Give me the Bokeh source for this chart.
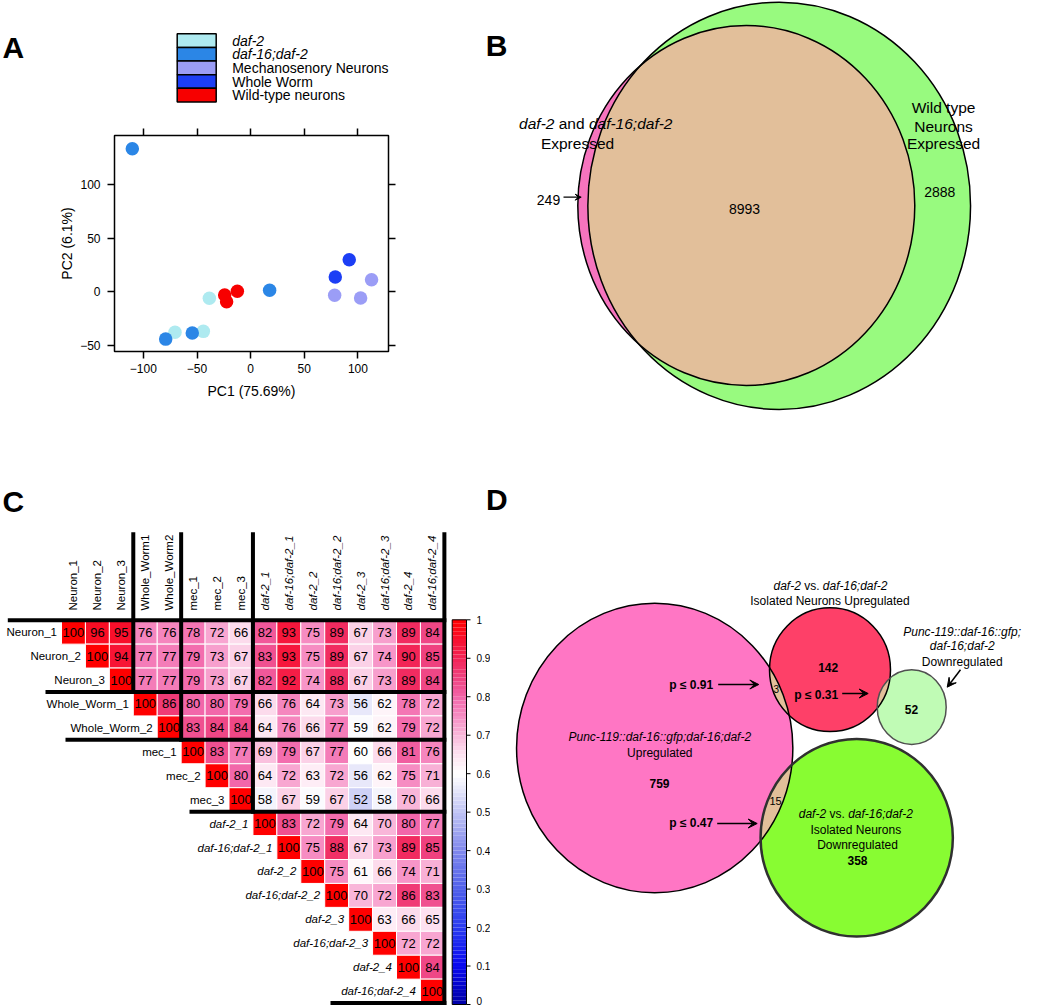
import numpy as np
from bokeh.plotting import figure
from bokeh.models import (Range1d, ColumnDataSource, LinearAxis, FixedTicker,
                          LinearColorMapper, Arrow, VeeHead)
from bokeh.layouts import row, column
from bokeh.transform import transform
from bokeh.core.properties import value
from bokeh.embed import file_html
from bokeh.resources import INLINE

FONT = "Liberation Sans"

# ---------------- data ----------------
# Panel A: PCA scores
pca_groups = ["daf-2", "daf-16;daf-2", "Mechanosenory Neurons", "Whole Worm", "Wild-type neurons"]
pca_italic = [True, True, False, False, False]
pca_colors = ["#aeeaf0", "#2b86e6", "#9b9df6", "#1c3ef5", "#f70000"]
daf2_pc1 = [-70.5, -44.1, -38.5]
daf2_pc2 = [-37.5, -36.6, -5.9]
daf16_pc1 = [-110.3, -79.2, -54.4, 17.7]
daf16_pc2 = [133.0, -43.8, -38.1, 1.6]
mec_pc1 = [78.3, 102.5, 112.7]
mec_pc2 = [-3.1, -5.6, 11.3]
ww_pc1 = [78.9, 91.9]
ww_pc2 = [13.8, 30.0]
wt_pc1 = [-24.2, -22.4, -12.4]
wt_pc2 = [-2.8, -9.1, 0.6]
pc1_ticks = [-100, -50, 0, 50, 100]
pc2_ticks = [-50, 0, 50, 100]

# Panel B: Venn counts
b_only_mutant = 249
b_shared = 8993
b_only_wt = 2888

# Panel C: correlation matrix (upper triangle, percent)
row_names = ["Neuron_1", "Neuron_2", "Neuron_3", "Whole_Worm_1", "Whole_Worm_2",
             "mec_1", "mec_2", "mec_3", "daf-2_1", "daf-16;daf-2_1", "daf-2_2",
             "daf-16;daf-2_2", "daf-2_3", "daf-16;daf-2_3", "daf-2_4", "daf-16;daf-2_4"]
col_names = ["Neuron_1", "Neuron_2", "Neuron_3", "Whole_Worm1", "Whole_Worm2",
             "mec_1", "mec_2", "mec_3", "daf-2_1", "daf-16;daf-2_1", "daf-2_2",
             "daf-16;daf-2_2", "daf-2_3", "daf-16;daf-2_3", "daf-2_4", "daf-16;daf-2_4"]
group_sizes = [3, 2, 3, 8]
corr_upper = [
    [100, 96, 95, 76, 76, 78, 72, 66, 82, 93, 75, 89, 67, 73, 89, 84],
    [100, 94, 77, 77, 79, 73, 67, 83, 93, 75, 89, 67, 74, 90, 85],
    [100, 77, 77, 79, 73, 67, 82, 92, 74, 88, 67, 73, 89, 84],
    [100, 86, 80, 80, 79, 66, 76, 64, 73, 56, 62, 78, 72],
    [100, 83, 84, 84, 64, 76, 66, 77, 59, 62, 79, 72],
    [100, 83, 77, 69, 79, 67, 77, 60, 66, 81, 76],
    [100, 80, 64, 72, 63, 72, 56, 62, 75, 71],
    [100, 58, 67, 59, 67, 52, 58, 70, 66],
    [100, 83, 72, 79, 64, 70, 80, 77],
    [100, 75, 88, 67, 73, 89, 85],
    [100, 75, 61, 66, 74, 71],
    [100, 70, 72, 86, 83],
    [100, 63, 66, 65],
    [100, 72, 72],
    [100, 84],
    [100],
]
cbar_ticks = [0.0, 0.1, 0.2, 0.3, 0.4, 0.5, 0.6, 0.7, 0.8, 0.9, 1.0]
cbar_labels = ["0", "0.1", "0.2", "0.3", "0.4", "0.5", "0.6", "0.7", "0.8", "0.9", "1"]
cmap_stops = [0.0, 0.1, 0.2, 0.3, 0.4, 0.5, 0.58, 0.6, 0.65, 0.7, 0.75, 0.8, 0.85, 0.9, 0.95, 1.0]
cmap_colors = ["#0000a8", "#0808f0", "#2a3cf0", "#5060ea", "#8088ec", "#c0c4f4", "#f4f4fc",
               "#ffffff", "#fde2f0", "#f9b8da", "#f68ec4", "#f267aa", "#ef4280", "#f22658",
               "#f8102e", "#ff0000"]

# Panel D: Venn counts
d_punc_up = 759
d_iso_up = 142
d_punc_down = 52
d_iso_down = 358
d_overlap_up = 3
d_overlap_down = 15
d_pvals = ["p \u2264 0.91", "p \u2264 0.31", "p \u2264 0.47"]

# ---------------- helpers ----------------
AW = {' ': 278, '!': 278, '(': 333, ')': 333, '-': 333, '.': 278, ':': 278, ';': 278, '_': 556,
      '%': 889, 'a': 556, 'b': 556, 'c': 500, 'd': 556, 'e': 556, 'f': 278, 'g': 556, 'h': 556,
      'i': 222, 'j': 222, 'k': 500, 'l': 222, 'm': 833, 'n': 556, 'o': 556, 'p': 556, 'q': 556,
      'r': 333, 's': 500, 't': 278, 'u': 556, 'v': 500, 'w': 722, 'x': 500, 'y': 500, 'z': 500,
      'A': 667, 'B': 667, 'C': 722, 'D': 722, 'E': 667, 'I': 278, 'N': 722, 'P': 667, 'U': 722,
      'W': 944, 'M': 833}


def tw(s, size):
    return sum(AW.get(c, 556) for c in s) / 1000.0 * size


def canvas(x0, x1, y0, y1):
    p = figure(width=int(round(x1 - x0)), height=int(round(y1 - y0)),
               x_range=Range1d(x0, x1), y_range=Range1d(y1, y0),
               x_axis_location=None, y_axis_location=None, tools="",
               output_backend="svg", toolbar_location=None, min_border=0,
               frame_align=False)
    p.grid.visible = False
    p.outline_line_color = None
    p.background_fill_color = "white"
    p.border_fill_color = "white"
    return p


def txt(p, x, y, s, size, style="normal", align="center", baseline="middle", angle=0.0):
    p.text(x=[x], y=[y], text=[s], angle=angle, text_font=value(FONT),
           text_font_size=f"{size}px", text_font_style=style, text_align=align,
           text_baseline=baseline, text_color="black")


def rich(p, cx, cy, segs, size):
    total = sum(tw(t, size) for t, _ in segs)
    x = cx - total / 2.0
    for t, it in segs:
        lead = len(t) - len(t.lstrip(" "))
        s = t.strip(" ")
        if s:
            txt(p, x + tw(" " * lead, size), cy, s, size, "italic" if it else "normal", align="left")
        x += tw(t, size)


def ell_pts(cx, cy, w, h, n=900):
    t = np.linspace(0, 2 * np.pi, n, endpoint=False)
    return cx + w / 2 * np.cos(t), cy + h / 2 * np.sin(t)


def inside(x, y, e):
    cx, cy, w, h = e
    return ((x - cx) / (w / 2)) ** 2 + ((y - cy) / (h / 2)) ** 2 <= 1.0


def lens(e1, e2):
    x1, y1 = ell_pts(*e1)
    x2, y2 = ell_pts(*e2)
    m1 = inside(x1, y1, e2)
    m2 = inside(x2, y2, e1)
    xs = np.concatenate([x1[m1], x2[m2]])
    ys = np.concatenate([y1[m1], y2[m2]])
    mx, my = xs.mean(), ys.mean()
    o = np.argsort(np.arctan2(ys - my, xs - mx))
    return list(xs[o]), list(ys[o])


def arrows(p, xs0, ys0, xs1, ys1, size=9, lw=1.5):
    src = ColumnDataSource(dict(x0=xs0, y0=ys0, x1=xs1, y1=ys1))
    p.add_layout(Arrow(x_start="x0", y_start="y0", x_end="x1", y_end="y1", source=src,
                       line_color="black", line_width=lw,
                       end=VeeHead(size=size, fill_color="black", line_color="black", line_width=1)))


TAN = "#e2bf9a"

# ---------------- Panel A: legend canvas ----------------
pl = canvas(0, 485, 0, 105)
txt(pl, 2.0, 46.7, "A", 30, "bold", align="left", baseline="alphabetic")
rh = 13.64
leg_top = [33.3 + i * rh for i in range(len(pca_groups))]
pl.quad(left=176.7, right=215.7, top=leg_top, bottom=[t + rh for t in leg_top],
        fill_color=pca_colors, line_color="black", line_width=1.5)
for i, g in enumerate(pca_groups):
    txt(pl, 231.7, leg_top[i] + rh / 2, g, 14, "italic" if pca_italic[i] else "normal", align="left")

# ---------------- Panel A: scatter ----------------
pa = figure(width=485, height=350, x_range=Range1d(-126.9, 128.5), y_range=Range1d(-55.3, 145.3),
            output_backend="svg", toolbar_location=None, tools="", frame_align=False,
            min_border_left=114, min_border_right=97, min_border_top=30, min_border_bottom=104)
pa.grid.visible = False
pa.outline_line_color = "black"
pa.outline_line_width = 1.5
pa.background_fill_color = "white"
pa.border_fill_color = "white"
pa.below[0].ticker = FixedTicker(ticks=pc1_ticks)
pa.left[0].ticker = FixedTicker(ticks=pc2_ticks)
pa.below[0].axis_label = "PC1 (75.69%)"
pa.left[0].axis_label = "PC2 (6.1%)"
pa.add_layout(LinearAxis(ticker=FixedTicker(ticks=pc1_ticks), major_label_text_color=None,
                         major_label_text_alpha=0, major_label_standoff=0), "above")
pa.add_layout(LinearAxis(ticker=FixedTicker(ticks=pc2_ticks), major_label_text_color=None,
                         major_label_text_alpha=0, major_label_standoff=0), "right")
for ax in pa.below + pa.left + pa.above + pa.right:
    ax.axis_line_color = None
    ax.major_tick_line_color = "black"
    ax.major_tick_line_width = 1.5
    ax.major_tick_in = 0
    ax.major_tick_out = 7
    ax.minor_tick_line_color = None
    ax.axis_label_text_font = FONT
    ax.axis_label_text_font_style = "normal"
    ax.axis_label_text_font_size = "14px"
    ax.axis_label_text_color = "black"
for ax in pa.below + pa.left:
    ax.major_label_text_font = FONT
    ax.major_label_text_font_size = "12px"
    ax.major_label_text_color = "black"
pa.below[0].major_label_standoff = 5
pa.below[0].axis_label_standoff = 7
pa.left[0].major_label_standoff = 7
pa.left[0].axis_label_standoff = 2
for (xs, ys), c in zip([(daf2_pc1, daf2_pc2), (daf16_pc1, daf16_pc2), (mec_pc1, mec_pc2),
                        (ww_pc1, ww_pc2), (wt_pc1, wt_pc2)], pca_colors):
    pa.scatter(xs, ys, size=13.5, fill_color=c, line_color=None)

# ---------------- Panel B ----------------
pb = canvas(485, 1050, 0, 455)
txt(pb, 485.3, 45, "B", 30, "bold", align="left", baseline="alphabetic")
e_wt = (778.7, 205.3, 382.7, 407.3)
e_mut = (745.8, 205.0, 337.0, 360.0)
pb.ellipse(x=e_wt[0], y=e_wt[1], width=e_wt[2], height=e_wt[3], fill_color="#98fa7f", line_color=None)
pb.ellipse(x=e_mut[0], y=e_mut[1], width=e_mut[2], height=e_mut[3], fill_color="#f674be", line_color=None)
lx, ly = lens(e_wt, e_mut)
pb.patch(lx, ly, fill_color=TAN, line_color=None)
for e in (e_wt, e_mut):
    pb.ellipse(x=e[0], y=e[1], width=e[2], height=e[3], fill_color=None, line_color="black", line_width=1.5)
rich(pb, 595.3, 123.3, [("daf-2", True), (" and ", False), ("daf-16;daf-2", True)], 15.5)
txt(pb, 577, 143.3, "Expressed", 15.5)
txt(pb, 943, 106.7, "Wild type", 15.5)
txt(pb, 943, 125.5, "Neurons", 15.5)
txt(pb, 943, 143.3, "Expressed", 15.5)
txt(pb, 548, 199.5, str(b_only_mutant), 14)
txt(pb, 744, 208.3, str(b_shared), 14)
txt(pb, 939.3, 191.7, str(b_only_wt), 14)
arrows(pb, [563.0], [196.7], [580.7], [196.7], size=6, lw=1.3)

# ---------------- Panel letters C / D strip ----------------
pct = canvas(0, 485, 455, 525)
txt(pct, 2.0, 500.5, "C", 30, "bold", align="left", baseline="alphabetic")
pdt = canvas(485, 1050, 455, 525)
txt(pdt, 485.5, 499.3, "D", 30, "bold", align="left", baseline="alphabetic")

# ---------------- Panel C ----------------
pc = canvas(0, 490, 525, 1007)
palette = []
for v in np.linspace(0, 1, 256):
    rgb = []
    for ch in range(3):
        comps = [int(c[1 + 2 * ch:3 + 2 * ch], 16) for c in cmap_colors]
        rgb.append(int(round(np.interp(v, cmap_stops, comps))))
    palette.append("#%02x%02x%02x" % tuple(rgb))
mapper = LinearColorMapper(palette=palette, low=0, high=1)

cw = 23.93
gx0 = 61.0
gy0 = 619.7
cx_, cy_, cv_, ct_ = [], [], [], []
for i, vals in enumerate(corr_upper):
    for k, v in enumerate(vals):
        j = i + k
        cx_.append(gx0 + (j + 0.5) * cw)
        cy_.append(gy0 + (i + 0.5) * cw)
        cv_.append(v / 100.0)
        ct_.append(str(v))
csrc = ColumnDataSource(dict(x=cx_, y=cy_, v=cv_, t=ct_))
pc.rect("x", "y", width=cw, height=cw, source=csrc, fill_color=transform("v", mapper),
        line_color="white", line_width=1)
pc.text("x", "y", text="t", source=csrc, text_font=value(FONT), text_font_size="13px",
        text_align="center", text_baseline="middle", text_color="black")
for i, name in enumerate(row_names):
    txt(pc, gx0 + i * cw - 4.5, gy0 + (i + 0.5) * cw, name, 11.5,
        "italic" if name.startswith("daf") else "normal", align="right")
for j, name in enumerate(col_names):
    txt(pc, gx0 + (j + 0.5) * cw, 610, name, 11.5,
        "italic" if name.startswith("daf") else "normal", align="left", angle=np.pi / 2)
# group separators
bounds = list(np.cumsum(group_sizes))
hstart = [7.3, 45, 65, 189, 330]
right_x = gx0 + len(col_names) * cw
sx0, sy0, sx1, sy1 = [hstart[0]], [gy0], [right_x + 2], [gy0]
for n, k in enumerate(bounds):
    yb = gy0 + k * cw
    xb = gx0 + k * cw
    sx0.append(xb); sy0.append(531.7); sx1.append(xb); sy1.append(yb + 2)
    sx0.append(hstart[n + 1]); sy0.append(yb); sx1.append(right_x + 2); sy1.append(yb)
pc.segment(sx0, sy0, sx1, sy1, line_color="black", line_width=4, line_cap="butt")
# colour bar
cb_x0, cb_x1, cb_top, cb_bot = 451.7, 466.0, 619.3, 1004.0
lv = np.linspace(0, 1, 101)
cbs = ColumnDataSource(dict(b=[cb_bot - v * (cb_bot - cb_top) for v in lv[:-1]],
                            t=[cb_bot - v * (cb_bot - cb_top) for v in lv[1:]],
                            v=list((lv[:-1] + lv[1:]) / 2)))
pc.quad(left=cb_x0, right=cb_x1, bottom="b", top="t", source=cbs,
        fill_color=transform("v", mapper), line_color=None)
pc.quad(left=cb_x0, right=cb_x1, bottom=cb_bot, top=cb_top, fill_color=None,
        line_color="black", line_width=1)
tky = [cb_bot - v * (cb_bot - cb_top) for v in cbar_ticks]
pc.segment([cb_x1] * len(tky), tky, [cb_x1 + 4] * len(tky), tky, line_color="black", line_width=1)
lab_y = [min(y, 1000.0) for y in tky]
pc.text([476.0] * len(tky), lab_y, text=cbar_labels, text_font=value(FONT), text_font_size="10px",
        text_align="left", text_baseline="middle", text_color="black")

# ---------------- Panel D ----------------
pd_ = canvas(490, 1050, 525, 1007)
e_pu = (654.2, 747.5, 276.3, 289.6)
e_iu = (829.5, 669.2, 121.0, 123.7)
e_pd = (911.2, 706.7, 69.0, 74.7)
e_id = (856.2, 837.2, 192.3, 197.7)
fills = [(e_pu, "#ff76c4"), (e_iu, "#fe4068"), (e_pd, "#c0fbb5"), (e_id, "#88fc32")]
for e, c in fills:
    pd_.ellipse(x=e[0], y=e[1], width=e[2], height=e[3], fill_color=c, line_color=None)
for a, b in ((e_pu, e_iu), (e_iu, e_pd), (e_pu, e_id)):
    lx, ly = lens(a, b)
    pd_.patch(lx, ly, fill_color=TAN, line_color=None)
for e, lc, lw in ((e_pu, "black", 1.5), (e_iu, "black", 1.5), (e_pd, "#505050", 1.5), (e_id, "#303030", 2.5)):
    pd_.ellipse(x=e[0], y=e[1], width=e[2], height=e[3], fill_color=None, line_color=lc, line_width=lw)

rich(pd_, 830, 585, [("daf-2", True), (" vs. ", False), ("daf-16;daf-2", True)], 12)
txt(pd_, 829.5, 600, "Isolated Neurons Upregulated", 12)
txt(pd_, 961.7, 631, "Punc-119::daf-16::gfp;", 12, "italic")
txt(pd_, 961.7, 645.5, "daf-16;daf-2", 12, "italic")
txt(pd_, 961.7, 661, "Downregulated", 12)
txt(pd_, 827.7, 666.7, str(d_iso_up), 12, "bold")
txt(pd_, 775.7, 688.3, str(d_overlap_up), 10)
txt(pd_, 690.7, 684, d_pvals[0], 12, "bold")
txt(pd_, 815.7, 694, d_pvals[1], 12, "bold")
txt(pd_, 911, 709, str(d_punc_down), 12, "bold")
txt(pd_, 659.3, 736.7, "Punc-119::daf-16::gfp;daf-16;daf-2", 12, "italic")
txt(pd_, 659.3, 752.3, "Upregulated", 12)
txt(pd_, 659, 783.3, str(d_punc_up), 12, "bold")
txt(pd_, 775, 800.7, str(d_overlap_down), 11)
txt(pd_, 690.7, 822.7, d_pvals[2], 12, "bold")
rich(pd_, 855.3, 813, [("daf-2", True), (" vs. ", False), ("daf-16;daf-2", True)], 12)
txt(pd_, 855.3, 829, "Isolated Neurons", 12)
txt(pd_, 857, 844.3, "Downregulated", 12)
txt(pd_, 857, 860, str(d_iso_down), 12, "bold")
arrows(pd_, [717.7, 841.7, 716.7, 960.0], [684.0, 693.0, 823.0, 669.3],
       [758.3, 867.7, 756.7, 946.7], [684.0, 693.0, 823.0, 686.7], size=9, lw=1.5)

layout = column(row(column(pl, pa), pb), row(pct, pdt), row(pc, pd_))
open("out.html", "w").write(file_html(layout, INLINE))
